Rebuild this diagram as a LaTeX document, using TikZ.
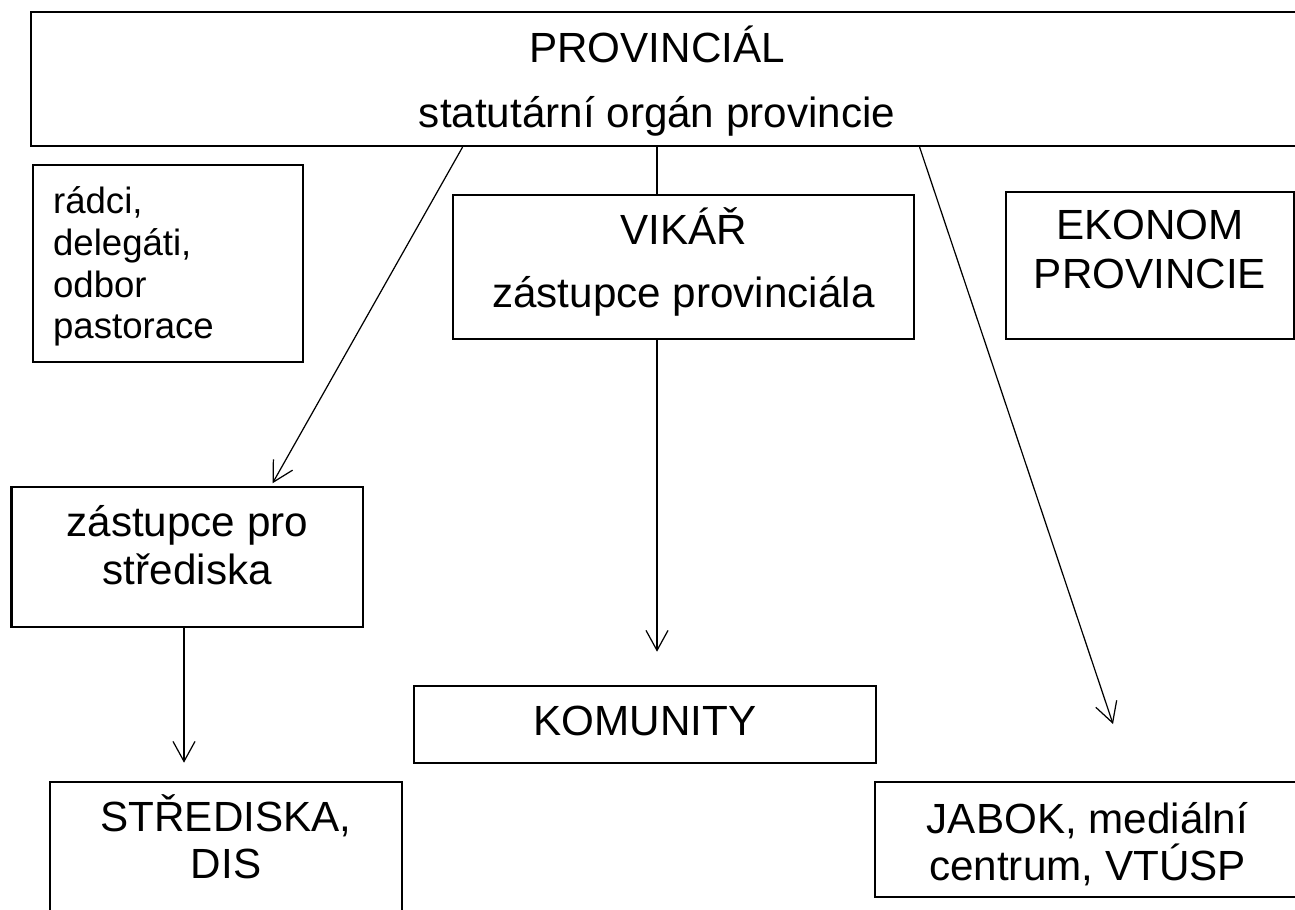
\documentclass[tikz,border=0pt]{standalone}
\usepackage{fontspec}
\setmainfont{Liberation Sans}
\usetikzlibrary{arrows.meta,calc}

\tikzset{
  box/.style={draw, line width=0.6pt, inner sep=0pt},
  txt/.style={align=center, inner sep=0pt, font=\fontsize{12pt}{13.4pt}\selectfont},
  arr/.style={-{Straight Barb[length=0.2cm,width=0.22cm]}, line width=0.35pt},
  link/.style={line width=0.35pt}
}

\begin{document}
\begin{tikzpicture}[x=0.01cm,y=-0.01cm]
\useasboundingbox (0,0) rectangle (1295,910);

% top box, runs off the right edge
\node[box, minimum width=13cm, minimum height=1.34cm] (prov) at (681,79) {};
\node[txt] (prov-t) at (657,81) {PROVINCIÁL\\[5.1pt] statutární orgán provincie};

% second row
\node[box, minimum width=2.7cm, minimum height=1.97cm] (radci) at (167.7,263.5) {};
\node[txt, text width=2.29cm, align=left, font=\fontsize{10.4pt}{11.9pt}\selectfont]
  (radci-t) at (167.7,266.5) {rádci,\\delegáti,\\odbor\\pastorace};
\node[box, minimum width=4.61cm, minimum height=1.44cm] (vikar) at (683.5,267) {};
\node[txt] (vikar-t) at (683.5,261.5) {VIKÁŘ\\[4.5pt] zástupce provinciála};
\node[box, minimum width=2.88cm, minimum height=1.47cm] (ekonom) at (1150,265.3) {};
\node[txt] (ekonom-t) at (1150,249.5) {EKONOM\\[0.55pt] PROVINCIE};

% lower boxes
\node[box, minimum width=3.515cm, minimum height=1.406cm] (zastupce) at (187.3,557) {};
\node[txt] (zastupce-t) at (187.3,545.3) {zástupce pro\\[0.35pt] střediska};
\node[box, minimum width=4.61cm, minimum height=0.767cm] (komunity) at (645,724.3) {};
\node[txt] (komunity-t) at (645,720.5) {KOMUNITY};
\node[box, minimum width=3.52cm, minimum height=1.33cm] (stred) at (226,848.5) {};
\node[txt] (stred-t) at (226,836.8) {STŘEDISKA,\\DIS};
\node[box, minimum width=4.24cm, minimum height=1.147cm] (jabok) at (1087.5,839.3) {};
\node[txt] (jabok-t) at (1087.5,844) {JABOK, mediální\\centrum, VTÚSP};

% arrow ends
\coordinate (tipA) at (272.5,483.3);
\coordinate (tipC) at (657,651.7);
\coordinate (tipD) at (1113,724);
\coordinate (tipE) at (184,762.7);

\draw[arr] ($(prov.south west)+(433,0)$) -- (tipA);
\draw[link] (prov-t |- prov.south) -- (prov-t |- vikar.north);
\draw[arr] (prov-t |- vikar.south) -- (tipC);
\draw[arr] ($(prov.south west)+(890,0)$) -- (tipD);
\draw[arr] (zastupce.south -| tipE) -- (tipE);
\end{tikzpicture}
\end{document}
